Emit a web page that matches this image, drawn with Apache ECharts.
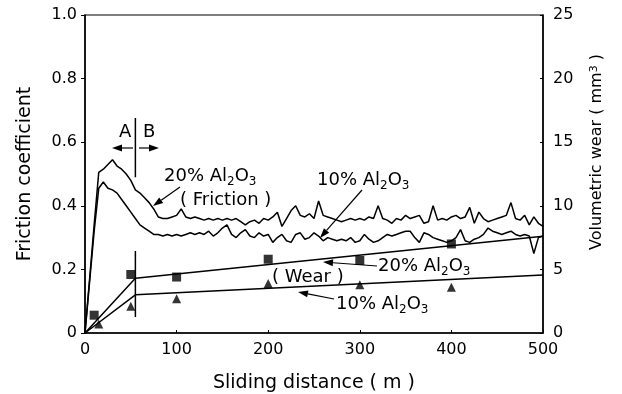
<!DOCTYPE html>
<html>
<head>
<meta charset="utf-8">
<script src="https://cdn.jsdelivr.net/npm/echarts@6/dist/echarts.min.js"></script>
<style>
  html, body { margin: 0; padding: 0; background: #fff; }
  #chart { width: 622px; height: 394px; }
</style>
</head>
<body>
<div id="chart"></div>
<script>
// sliding distance (m) at which friction was read
const distance = [0, 5, 10, 15, 20, 25, 30, 35, 40, 45, 50, 55, 60, 65, 70, 75, 80, 85, 90, 95,
  100, 105, 110, 115, 120, 125, 130, 135, 140, 145, 150, 155, 160, 165, 170, 175, 180, 185, 190, 195,
  200, 205, 210, 215, 220, 225, 230, 235, 240, 245, 250, 255, 260, 265, 270, 275, 280, 285, 290, 295,
  300, 305, 310, 315, 320, 325, 330, 335, 340, 345, 350, 355, 360, 365, 370, 375, 380, 385, 390, 395,
  400, 405, 410, 415, 420, 425, 430, 435, 440, 445, 450, 455, 460, 465, 470, 475, 480, 485, 490, 495, 500];

// friction coefficient, 20% Al2O3
const friction20 = [0, 0.17, 0.34, 0.505, 0.515, 0.53, 0.545, 0.525, 0.515, 0.50, 0.48, 0.45, 0.44, 0.425, 0.41, 0.39, 0.365, 0.36, 0.36, 0.365,
  0.37, 0.39, 0.365, 0.36, 0.365, 0.36, 0.355, 0.36, 0.355, 0.36, 0.355, 0.36, 0.355, 0.36, 0.35, 0.34, 0.35, 0.355, 0.345, 0.36,
  0.355, 0.365, 0.38, 0.335, 0.36, 0.385, 0.40, 0.37, 0.365, 0.375, 0.36, 0.415, 0.37, 0.365, 0.36, 0.355, 0.35, 0.355, 0.36, 0.355,
  0.36, 0.355, 0.365, 0.36, 0.40, 0.36, 0.355, 0.345, 0.36, 0.355, 0.37, 0.36, 0.365, 0.37, 0.345, 0.35, 0.40, 0.355, 0.36, 0.355,
  0.365, 0.37, 0.36, 0.365, 0.395, 0.345, 0.38, 0.36, 0.35, 0.355, 0.36, 0.365, 0.37, 0.41, 0.36, 0.355, 0.37, 0.34, 0.365, 0.345, 0.335];

// friction coefficient, 10% Al2O3
const friction10 = [0, 0.16, 0.32, 0.455, 0.475, 0.455, 0.45, 0.44, 0.42, 0.40, 0.38, 0.36, 0.34, 0.33, 0.32, 0.31, 0.31, 0.305, 0.31, 0.305,
  0.31, 0.305, 0.31, 0.315, 0.31, 0.315, 0.31, 0.32, 0.305, 0.315, 0.33, 0.34, 0.31, 0.30, 0.315, 0.325, 0.305, 0.30, 0.315, 0.305,
  0.31, 0.285, 0.30, 0.31, 0.29, 0.285, 0.31, 0.315, 0.295, 0.30, 0.315, 0.305, 0.29, 0.30, 0.295, 0.29, 0.295, 0.29, 0.30, 0.285,
  0.29, 0.31, 0.295, 0.285, 0.29, 0.30, 0.31, 0.305, 0.31, 0.315, 0.32, 0.32, 0.30, 0.285, 0.315, 0.31, 0.30, 0.295, 0.29, 0.285,
  0.29, 0.30, 0.325, 0.29, 0.285, 0.295, 0.30, 0.31, 0.33, 0.32, 0.315, 0.31, 0.315, 0.32, 0.31, 0.305, 0.31, 0.305, 0.25, 0.30, 0.305];

// volumetric wear (mm3) measurements
const wear20X = [10, 50, 100, 200, 300, 400];
const wear20 = [1.4, 4.6, 4.4, 5.8, 5.7, 7.0];
const wear10X = [15, 50, 100, 200, 300, 400];
const wear10 = [0.7, 2.1, 2.7, 3.9, 3.8, 3.6];

// fitted wear lines (A / B regimes)
const fitX = [0, 55, 500];
const wear20Fit = [0, 4.3, 7.6];
const wear10Fit = [0, 3.0, 4.55];

// A|B boundary marks
const boundaryX = 55;
const boundaryUpper = [0.676, 0.49];
const boundaryLower = [0.258, 0.05];

const zip = (xs, ys) => xs.map((x, i) => [x, ys[i]]);

const FONT = '"DejaVu Sans", sans-serif';
const black = '#000';

const lineSeries = (name, data, yAxisIndex) => ({
  name: name,
  type: 'line',
  yAxisIndex: yAxisIndex,
  data: data,
  symbol: 'none',
  silent: true,
  lineStyle: { color: black, width: 1.5 }
});

const arrow = (x1, y1, x2, y2) => {
  const ang = Math.atan2(y2 - y1, x2 - x1);
  const len = 10, half = 3.5;
  const bx = x2 - len * Math.cos(ang), by = y2 - len * Math.sin(ang);
  const px = -Math.sin(ang) * half, py = Math.cos(ang) * half;
  return [
    { type: 'line', shape: { x1: x1, y1: y1, x2: bx, y2: by }, style: { stroke: black, lineWidth: 1.2 } },
    { type: 'polygon', shape: { points: [[x2, y2], [bx + px, by + py], [bx - px, by - py]] }, style: { fill: black } }
  ];
};

const label = (x, y, text) => ({
  type: 'text',
  x: x,
  y: y,
  style: {
    text: text,
    font: '18px ' + FONT,
    fill: black,
    verticalAlign: 'middle',
    rich: {
      m: { fontSize: 18, fontFamily: FONT, lineHeight: 24 },
      s: { fontSize: 12, fontFamily: FONT, lineHeight: 12, verticalAlign: 'bottom' }
    }
  }
});

const chart = echarts.init(document.getElementById('chart'));

const option = {
  backgroundColor: '#fff',
  animation: false,
  textStyle: { fontFamily: FONT, color: black },
  grid: {
    left: 85, right: 79, top: 15, bottom: 61,
    outerBoundsMode: 'none',
    containLabel: false,
    show: true, borderColor: black, borderWidth: 1.2
  },
  xAxis: {
    type: 'value',
    min: 0, max: 500, interval: 100,
    name: 'Sliding distance ( m )',
    nameLocation: 'middle',
    nameGap: 41,
    nameTextStyle: { fontSize: 19, color: black },
    axisLine: { lineStyle: { color: black, width: 1.5 } },
    axisTick: { inside: true, length: 3, lineStyle: { color: black } },
    axisLabel: { fontSize: 16, color: black, margin: 9 },
    splitLine: { show: false }
  },
  yAxis: [
    {
      type: 'value',
      min: 0, max: 1, interval: 0.2,
      name: 'Friction coefficient',
      nameLocation: 'middle',
      nameGap: 50,
      nameTextStyle: { fontSize: 19, color: black },
      axisLine: { show: true, lineStyle: { color: black, width: 1.5 } },
      axisTick: { length: 4, lineStyle: { color: black } },
      axisLabel: {
        fontSize: 16, color: black, margin: 8,
        formatter: v => (v === 0 ? '0' : v.toFixed(1))
      },
      splitLine: { show: false }
    },
    {
      type: 'value',
      min: 0, max: 25, interval: 5,
      position: 'right',
      name: 'Volumetric wear ( mm{sup|3} )',
      nameLocation: 'middle',
      nameGap: 46,
      nameRotate: 90,
      nameTextStyle: {
        fontSize: 16, color: black,
        padding: [0, 0, 0, 44],
        rich: { sup: { fontSize: 11, verticalAlign: 'top', lineHeight: 10 } }
      },
      axisLine: { show: true, lineStyle: { color: black, width: 1.5 } },
      axisTick: { inside: true, length: 3, lineStyle: { color: black } },
      axisLabel: { fontSize: 16, color: black, margin: 10 },
      splitLine: { show: false }
    }
  ],
  series: [
    lineSeries('20% Al2O3 friction', zip(distance, friction20), 0),
    lineSeries('10% Al2O3 friction', zip(distance, friction10), 0),
    lineSeries('20% Al2O3 wear fit', zip(fitX, wear20Fit), 1),
    lineSeries('10% Al2O3 wear fit', zip(fitX, wear10Fit), 1),
    lineSeries('boundary upper', boundaryUpper.map(v => [boundaryX, v]), 0),
    lineSeries('boundary lower', boundaryLower.map(v => [boundaryX, v]), 0),
    {
      name: '20% Al2O3 wear',
      type: 'scatter',
      yAxisIndex: 1,
      data: zip(wear20X, wear20),
      symbol: 'rect',
      symbolSize: 9,
      itemStyle: { color: black }
    },
    {
      name: '10% Al2O3 wear',
      type: 'scatter',
      yAxisIndex: 1,
      data: zip(wear10X, wear10),
      symbol: 'triangle',
      symbolSize: 9,
      itemStyle: { color: black }
    }
  ],
  graphic: [
    label(119, 132, 'A'),
    label(143, 132, 'B'),
    ...arrow(133, 148, 112, 148),
    ...arrow(139, 148, 159, 148),
    label(164, 176, '{m|20% Al}{s|2}{m|O}{s|3}'),
    label(180, 200, '( Friction )'),
    ...arrow(180, 187, 153, 206),
    label(317, 180, '{m|10% Al}{s|2}{m|O}{s|3}'),
    ...arrow(362, 190, 320, 238),
    label(272, 277, '( Wear )'),
    label(378, 266, '{m|20% Al}{s|2}{m|O}{s|3}'),
    ...arrow(377, 266, 323, 262),
    label(336, 304, '{m|10% Al}{s|2}{m|O}{s|3}'),
    ...arrow(334, 299, 298, 292)
  ]
};

chart.setOption(option);
</script>
</body>
</html>
